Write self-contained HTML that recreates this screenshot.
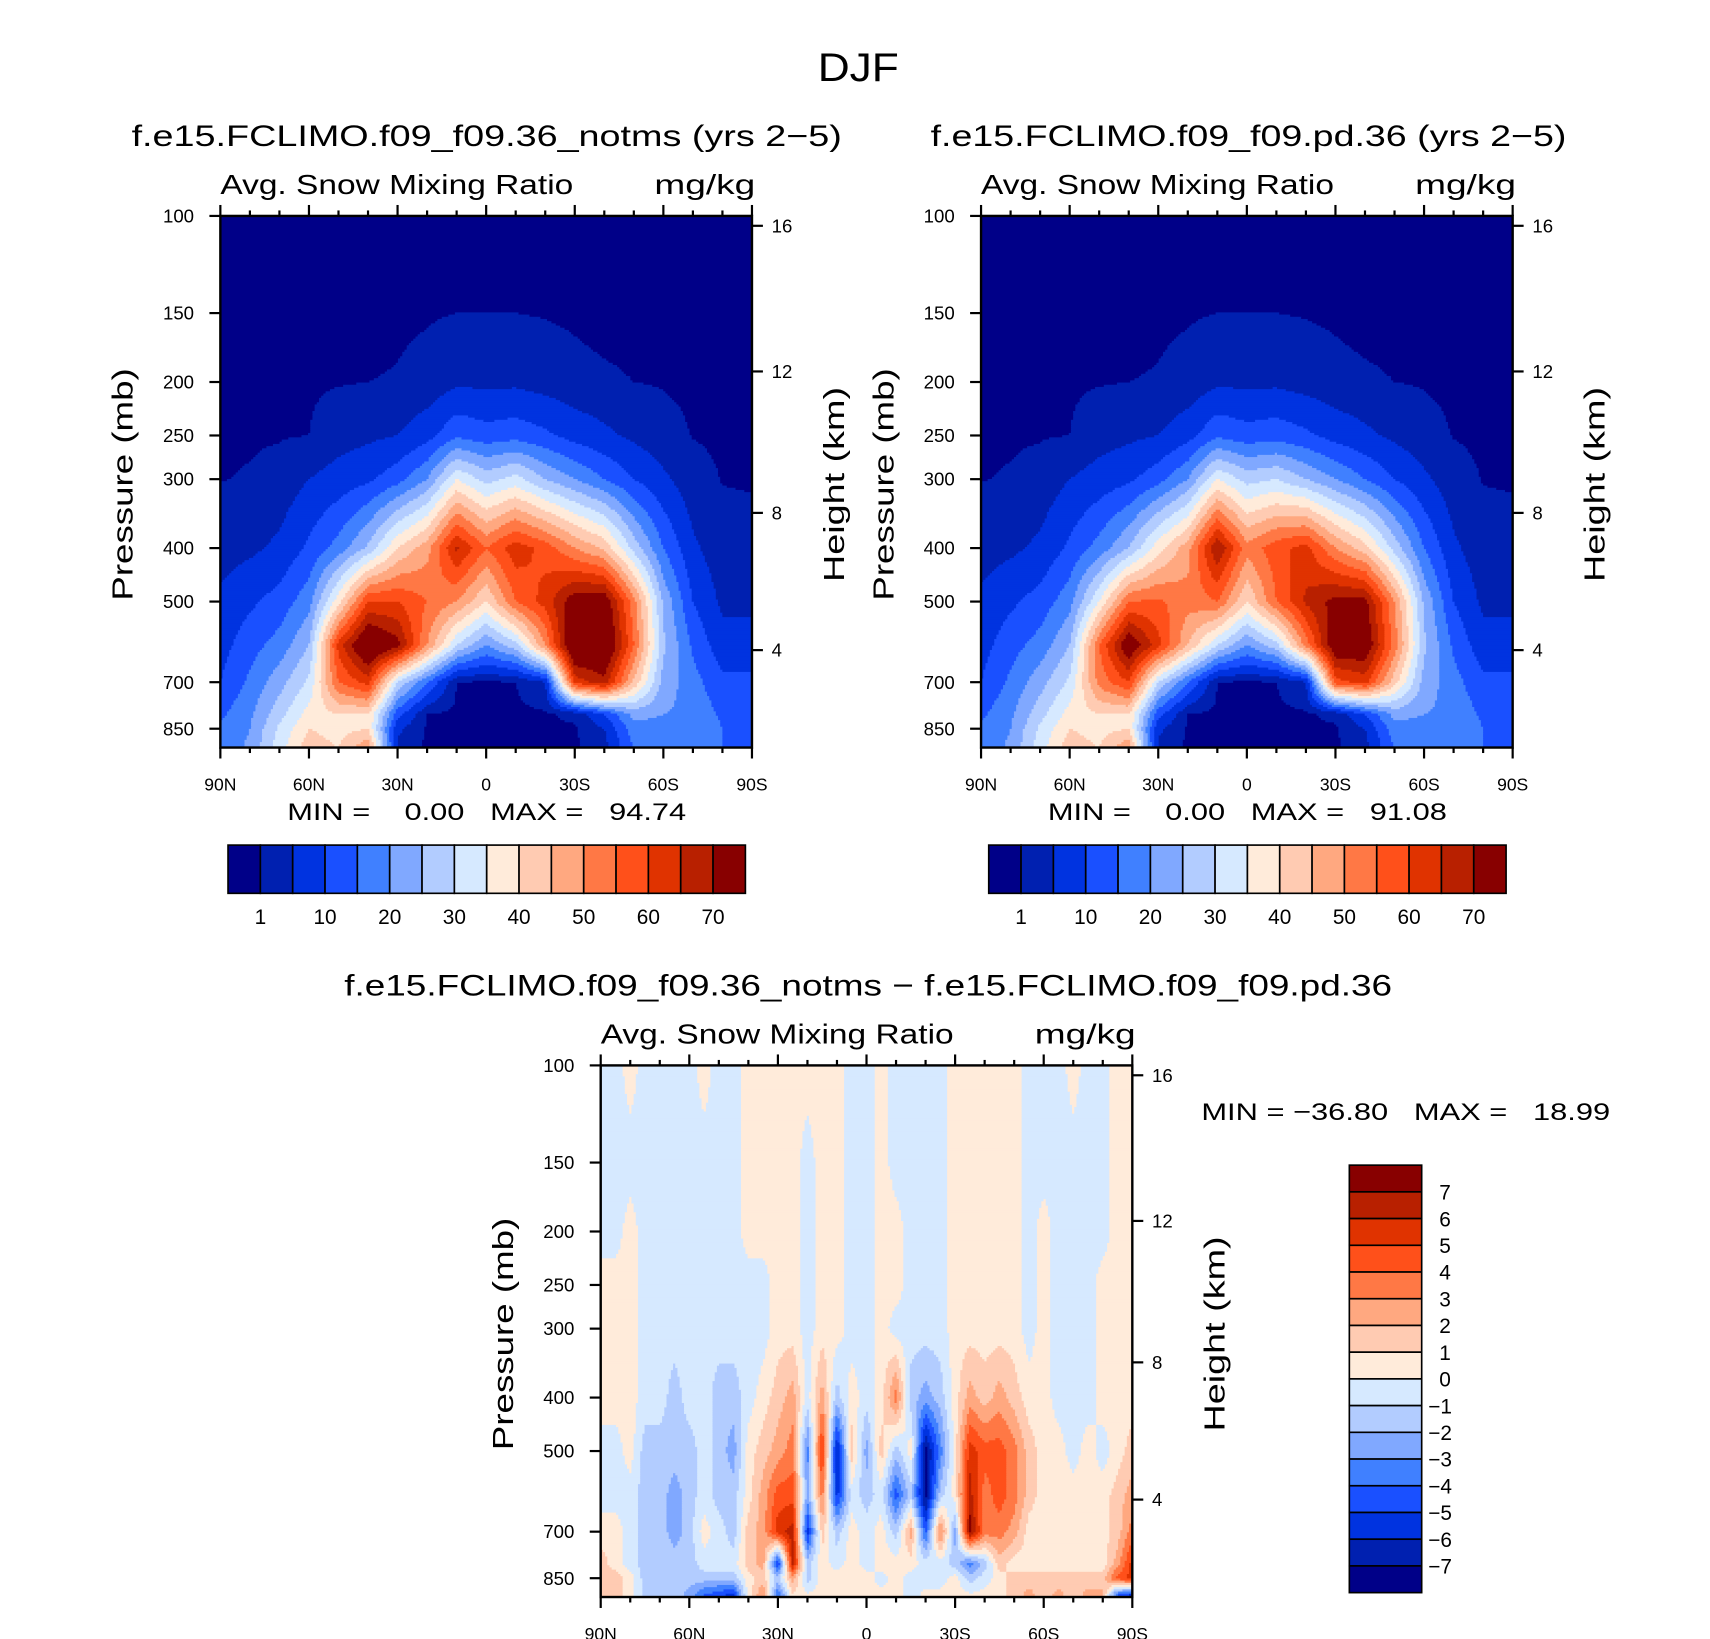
<!DOCTYPE html>
<html><head><meta charset="utf-8">
<style>
html,body{margin:0;padding:0;background:#fff;}
svg{display:block;}
text{font-family:"Liberation Sans",sans-serif;fill:#000;}
</style></head>
<body>
<svg id="fig" xmlns="http://www.w3.org/2000/svg" width="1710" height="1639" viewBox="0 0 1560 1495.3">
<rect x="0" y="0" width="1560" height="1496" fill="#fff"/>
<text x="783" y="74" font-size="36" text-anchor="middle" textLength="74" lengthAdjust="spacingAndGlyphs">DJF</text>
<g id="root"></g>
</svg>
<script>
// ---------- data ----------
const levels = [100,150,200,250,300,400,500,600,700,800,850,925];
const latLabels = ["90N","60N","30N","0","30S","60S","90S"];
const pTicks = [100,150,200,250,300,400,500,700,850];
const zTicks = [16,12,8,4];
const cbLabels1 = ["1","10","20","30","40","50","60","70"];
const bounds1 = [1,5,10,15,20,25,30,35,40,45,50,55,60,65,70];
const boundsD = [-7,-6,-5,-4,-3,-2,-1,0,1,2,3,4,5,6,7];
const cbLabelsD = ["7","6","5","4","3","2","1","0","\u22121","\u22122","\u22123","\u22124","\u22125","\u22126","\u22127"];
const colors = ["#000088","#0020b0","#0033e0","#1a50ff","#4080ff","#80a8ff","#b2ccff","#d6e9ff","#ffebda","#ffcbb2","#ffa880","#ff7845","#ff501a","#e03300","#b82000","#880000"];
// columns 90N..90S every 10 deg, values at levels
const ctlCols = [
[0,0,0.3,0.6,0.9,3,6,8,10,14,16,17],
[0,0,0.4,0.7,1.2,4,9,13,16,19,20,21],
[0,0,0.5,0.8,2,6,12,17,23,28,31,33],
[0,0,0.6,1,5,11,18,25,31,37,40,43],
[0,0,0.8,3,7,17,38,62,55,40,38,40],
[0,0,1,4,9,26,60,80,62,40,40,50],
[0,0.5,1.2,5,13,40,60,72,30,12,6,4],
[0,0.7,2,8,20,48,55,50,15,1,0.5,0.3],
[0,1,4,14,35,66,50,30,1,0.3,0.2,0.2],
[0,1,4,12,28,55,40,20,0.5,0.2,0.2,0.2],
[0,1,4,13,32,63,55,28,1,0.3,0.2,0.2],
[0,0.8,3,11,25,58,62,50,5,0.5,0.3,0.3],
[0,0.5,2,8,20,50,74,80,62,2,0.5,0.5],
[0,0,1.5,6,15,44,75,80,68,10,5,3],
[0,0,1,4,10,28,52,55,44,22,18,15],
[0,0,0.8,2,6,15,24,26,23,20,18,17],
[0,0,0.5,0.9,2,6,10,14,17,19,20,20],
[0,0,0.3,0.6,0.9,2,4,7,11,14,15,15],
[0,0,0.3,0.5,0.8,1.8,4,7,11,14,14,14]];
const expCols = [
[0,0,0.3,0.6,0.9,3,6,8,10,14,16,17],
[0,0,0.4,0.7,1.2,4,9,13,16,19,20,21],
[0,0,0.5,0.8,2,6,12,17,23,28,31,33],
[0,0,0.6,1,5,11,18,25,31,37,40,43],
[0,0,0.8,3,7,17,35,55,52,40,38,40],
[0,0,1,4,9,25,55,76,60,40,40,50],
[0,0.5,1.2,5,13,38,56,62,30,12,6,4],
[0,0.7,2,8,20,48,52,45,15,1,0.5,0.3],
[0,1,4,14,35,70,55,30,1,0.3,0.2,0.2],
[0,1,4,12,28,52,40,20,0.5,0.2,0.2,0.2],
[0,1,4,13,30,58,55,28,1,0.3,0.2,0.2],
[0,0.8,3,11,25,62,66,52,5,0.5,0.3,0.3],
[0,0.5,2,8,20,50,72,76,58,2,0.5,0.5],
[0,0,1.5,6,15,42,72,76,62,10,5,3],
[0,0,1,4,10,28,50,53,42,22,18,15],
[0,0,0.8,2,6,15,24,26,23,20,18,17],
[0,0,0.5,0.9,2,6,10,14,17,19,20,20],
[0,0,0.3,0.6,0.9,2,4,7,11,14,15,15],
[0,0,0.3,0.5,0.8,1.8,4,7,11,14,14,14]];
// difference, columns every 5 deg
const diffCols = [
[-0.5,-0.5,-0.5,0.5,0.5,0.5,-0.5,-0.5,0.5,1.5,1.5,1.5],
[-0.5,-0.5,-0.5,0.5,0.5,0.5,-0.5,-0.5,0.5,0.5,1.5,1.5],
[0.5,-0.5,0.5,0.5,0.5,0.5,0.5,-0.5,-0.5,-0.5,0.5,0.5],
[-0.5,-0.5,-0.5,-0.5,-0.5,-0.5,-1.5,-1.5,-1.5,-1.5,-1.5,-1.5],
[-0.5,-0.5,-0.5,-0.5,-0.5,-0.5,-1.5,-1.5,-1.5,-1.5,-1.5,-1.5],
[-0.5,-0.5,-0.5,-0.5,-0.5,-1.5,-1.5,-2.5,-2.5,-1.5,-1.5,-1.5],
[-0.5,-0.5,-0.5,-0.5,-0.5,-0.5,-1.5,-1.5,-1.5,-1.5,-1.5,-2.5],
[0.5,-0.5,-0.5,-0.5,-0.5,-0.5,-0.5,-0.5,0.5,-0.5,-1.5,-4.5],
[-0.5,-0.5,-0.5,-0.5,-0.5,-1.5,-1.5,-1.5,-0.5,-0.5,-1.5,-5.5],
[-0.5,-0.5,-0.5,-0.5,-0.5,-1.5,-2.5,-1.5,-1.5,-0.5,-1.5,-6],
[0.5,0.5,0.5,-0.5,-0.5,-0.5,0.5,0.5,1.5,1.5,0.5,0.5],
[0.5,0.5,0.5,-0.5,-0.5,0.5,1.5,2.5,2.5,2.5,1.5,3.5],
[0.5,0.5,0.5,0.5,0.5,1.5,2.5,4.5,5.5,-5.5,-1.5,-4.5],
[0.5,0.5,0.5,0.5,0.5,2.5,3.5,4.5,6.5,6.5,2.5,0.5],
[0.5,-0.5,-0.5,-0.5,-0.5,-0.5,-3.5,-2.5,-5.5,-1.5,-1.5,0.5],
[0.5,0.5,0.5,0.5,0.5,2.5,5.5,3.5,1.5,0.5,0.5,0.5],
[0.5,0.5,0.5,0.5,0.5,-1.5,-6.5,-5.5,-1.5,-0.5,0.5,0.5],
[-0.5,-0.5,-0.5,-0.5,-0.5,0.5,1.5,-0.5,0.5,0.5,0.5,0.5],
[-0.5,-0.5,-0.5,-0.5,-0.5,-0.5,-2.5,-1.5,-0.5,-0.5,0.5,0.5],
[0.5,0.5,0.5,0.5,0.5,0.5,1.5,-0.5,0.5,0.5,-0.5,0.5],
[-0.5,-0.5,0.5,0.5,-0.5,3.5,-1.5,-4.5,-1.5,0.5,0.5,0.5],
[-0.5,-0.5,-0.5,-0.5,-0.5,-1.5,0.5,-1.5,2.5,0.5,-0.5,-0.5],
[-0.5,-0.5,-0.5,-0.5,-0.5,-2.5,-7.5,-7.5,-4.5,-0.5,-0.5,0.5],
[-0.5,-0.5,-0.5,-0.5,-0.5,-1.5,-3.5,-1.5,3.5,-0.5,-0.5,0.5],
[0.5,0.5,0.5,0.5,0.5,0.5,0.5,0.5,-2.5,-1.5,0.5,0.5],
[0.5,0.5,0.5,0.5,0.5,2.5,5.5,6.5,7.5,-3.5,-1.5,0.5],
[0.5,0.5,0.5,0.5,0.5,1.5,4.5,3.5,3.5,-1.5,-0.5,0.5],
[0.5,0.5,0.5,0.5,0.5,2.5,4.5,4.5,3.5,1.5,0.5,0.5],
[0.5,0.5,0.5,0.5,0.5,1.5,3.5,3.5,2.5,0.5,1.5,1.5],
[-0.5,-0.5,-0.5,-0.5,-0.5,0.5,1.5,1.5,0.5,0.5,1.5,2.5],
[-0.5,-0.5,0.5,0.5,0.5,0.5,0.5,0.5,0.5,0.5,1.5,1.5],
[-0.5,-0.5,-0.5,-0.5,-0.5,-0.5,0.5,0.5,0.5,0.5,1.5,2.5],
[0.5,-0.5,-0.5,-0.5,-0.5,-0.5,-0.5,0.5,0.5,0.5,1.5,1.5],
[-0.5,-0.5,-0.5,-0.5,-0.5,-0.5,0.5,0.5,0.5,0.5,1.5,2.5],
[-0.5,-0.5,-0.5,0.5,0.5,0.5,-0.5,0.5,0.5,0.5,1.5,2.5],
[0.5,0.5,0.5,0.5,0.5,0.5,0.5,1.5,1.5,2.5,4.5,-6],
[0.5,0.5,0.5,0.5,0.5,0.5,1.5,2.5,3.5,5.5,5.5,-7.5]];

// ---------- helpers ----------
const NS="http://www.w3.org/2000/svg";
const root=document.getElementById('root');
function mk(tag,attrs,parent){const e=document.createElementNS(NS,tag);for(const k in attrs)e.setAttribute(k,attrs[k]);(parent||root).appendChild(e);return e;}
function txt(s,x,y,size,anchor,parent,extra){const t=mk('text',Object.assign({x:x,y:y,'font-size':size,'text-anchor':anchor||'start'},extra||{}),parent);t.setAttribute('xml:space','preserve');t.style.whiteSpace='pre';t.textContent=s;return t;}
const PW=485, PH=485, KP=218.6;
function yOfP(p){return KP*Math.log(p/100);}
function yOfZ(z){return 9 + (16-z)*33.7 - (16-z)*(16-z)*0.12;}
function colorIdx(v,b){let i=0;while(i<b.length&&v>=b[i])i++;return i;}
function sample(cols,xf,p){
  xf=Math.max(0,Math.min(1,xf));
  const nc=cols.length;const fx=xf*(nc-1);let i0=Math.floor(fx);if(i0>=nc-1)i0=nc-2;const tx=fx-i0;
  const lp=Math.log(p);let j0=0;while(j0<levels.length-2&&Math.log(levels[j0+1])<lp)j0++;
  let ty=(lp-Math.log(levels[j0]))/(Math.log(levels[j0+1])-Math.log(levels[j0]));ty=Math.max(0,Math.min(1,ty));
  const a=cols[i0][j0]*(1-ty)+cols[i0][j0+1]*ty;const b=cols[i0+1][j0]*(1-ty)+cols[i0+1][j0+1]*ty;
  return a*(1-tx)+b*tx;
}
function drawField(g,cols,bounds,x0,y0){
  const step=2;
  for(let py=0;py<PH;py+=step){
    const p=100*Math.exp((py+step/2)/KP);
    const hgt=Math.min(step,PH-py);
    let runStart=0,runC=-1;
    for(let px=0;;px+=step){
      const end=px>=PW;
      const c=end?-2:colorIdx(sample(cols,(px+step/2)/PW,p),bounds);
      if(c!==runC){
        if(runC>=0){const xe=Math.min(px,PW);
          const r=mk('rect',{x:x0+runStart,y:y0+py,width:xe-runStart+(end?0:0.6),height:hgt+0.6,fill:colors[runC]},g);
          
          }
        runStart=px;runC=c;
      }
      if(end)break;
    }
  }
}
function drawPanel(x0,y0,cols,bounds,title,titleX0,titleX1,name){
  const g=mk('g',{});
  
  
  const fg=mk('g',{},g);
  
  
  drawField(fg,cols,bounds,x0,y0);
  const fr=mk('rect',{x:x0,y:y0,width:PW,height:PH,fill:'none',stroke:'#000','stroke-width':2.2},g);
  
  
  for(let d=0;d<=180;d+=10){
    const x=x0+d/180*PW;const L=(d%30===0)?10:5;
    mk('line',{x1:x,y1:y0,x2:x,y2:y0-L,stroke:'#000','stroke-width':2},g);
    mk('line',{x1:x,y1:y0+PH,x2:x,y2:y0+PH+L,stroke:'#000','stroke-width':2},g);
  }
  latLabels.forEach((s,i)=>{const t=txt(s,x0+i*PW/6,y0+PH+39,16,'middle',g);
    
    });
  pTicks.forEach(p=>{const y=y0+yOfP(p);
    mk('line',{x1:x0,y1:y,x2:x0-10,y2:y,stroke:'#000','stroke-width':2},g);
    const t=txt(String(p),x0-24,y+6,17,'end',g);
    
    });
  zTicks.forEach(z=>{const y=y0+yOfZ(z);
    mk('line',{x1:x0+PW,y1:y,x2:x0+PW+10,y2:y,stroke:'#000','stroke-width':2},g);
    const t=txt(String(z),x0+PW+18,y+6,17,'start',g);
    
    });
  const t1=txt(title,titleX0,y0-64,27,'start',g,{textLength:titleX1-titleX0,lengthAdjust:'spacingAndGlyphs'});
  
  
  const t2=txt('Avg. Snow Mixing Ratio',x0,y0-20,25,'start',g,{textLength:322,lengthAdjust:'spacingAndGlyphs'});
  
  
  const t3=txt('mg/kg',x0+PW+3,y0-20,25,'end',g,{textLength:92,lengthAdjust:'spacingAndGlyphs'});
  
  
  const yl=txt('Pressure (mb)',0,0,26,'middle',g,{transform:`translate(${x0-80},${y0+245}) rotate(-90)`,textLength:212,lengthAdjust:'spacingAndGlyphs'});
  
  
  const yr=txt('Height (km)',0,0,26,'middle',g,{transform:`translate(${x0+PW+84},${y0+245}) rotate(-90)`,textLength:178,lengthAdjust:'spacingAndGlyphs'});
  
  
  return g;
}
function hColorbar(x0,y0,name){
  const g=mk('g',{});
  
  
  const w=472/16;
  colors.forEach((c,i)=>{const r=mk('rect',{x:x0+i*w,y:y0,width:w,height:44,fill:c,stroke:'#000','stroke-width':1.5},g);
    
    });
  cbLabels1.forEach((s,i)=>{const t=txt(s,x0+(1+2*i)*w,y0+72,19,'middle',g);
    
    });
}
// ---------- build ----------
drawPanel(201,197,ctlCols,bounds1,'f.e15.FCLIMO.f09_f09.36_notms (yrs 2\u22125)',120,768,'panel-notms');
drawPanel(895,197,expCols,bounds1,'f.e15.FCLIMO.f09_f09.pd.36 (yrs 2\u22125)',849,1429,'panel-pd');
drawPanel(548,972,diffCols,boundsD,'f.e15.FCLIMO.f09_f09.36_notms \u2212 f.e15.FCLIMO.f09_f09.pd.36',314,1270,'panel-diff');
let m1=txt('MIN =    0.00   MAX =   94.74',262,748,22,'start',null,{textLength:364,lengthAdjust:'spacingAndGlyphs'});


let m2=txt('MIN =    0.00   MAX =   91.08',956,748,22,'start',null,{textLength:364,lengthAdjust:'spacingAndGlyphs'});


let m3=txt('MIN = \u221236.80   MAX =   18.99',1096,1022,22,'start',null,{textLength:373,lengthAdjust:'spacingAndGlyphs'});


hColorbar(208,771,'colorbar-notms');
hColorbar(902,771,'colorbar-pd');
(function(){
  const g=mk('g',{});
  
  
  const h=390/16;
  for(let i=0;i<16;i++){const r=mk('rect',{x:1231,y:1063+i*h,width:66,height:h,fill:colors[15-i],stroke:'#000','stroke-width':1.5},g);
    
    }
  cbLabelsD.forEach((s,i)=>{const t=txt(s,s.length>1?1303:1313,1063+(i+1)*h+7,19,'start',g);
    
    });
})();
</script>
</body></html>
